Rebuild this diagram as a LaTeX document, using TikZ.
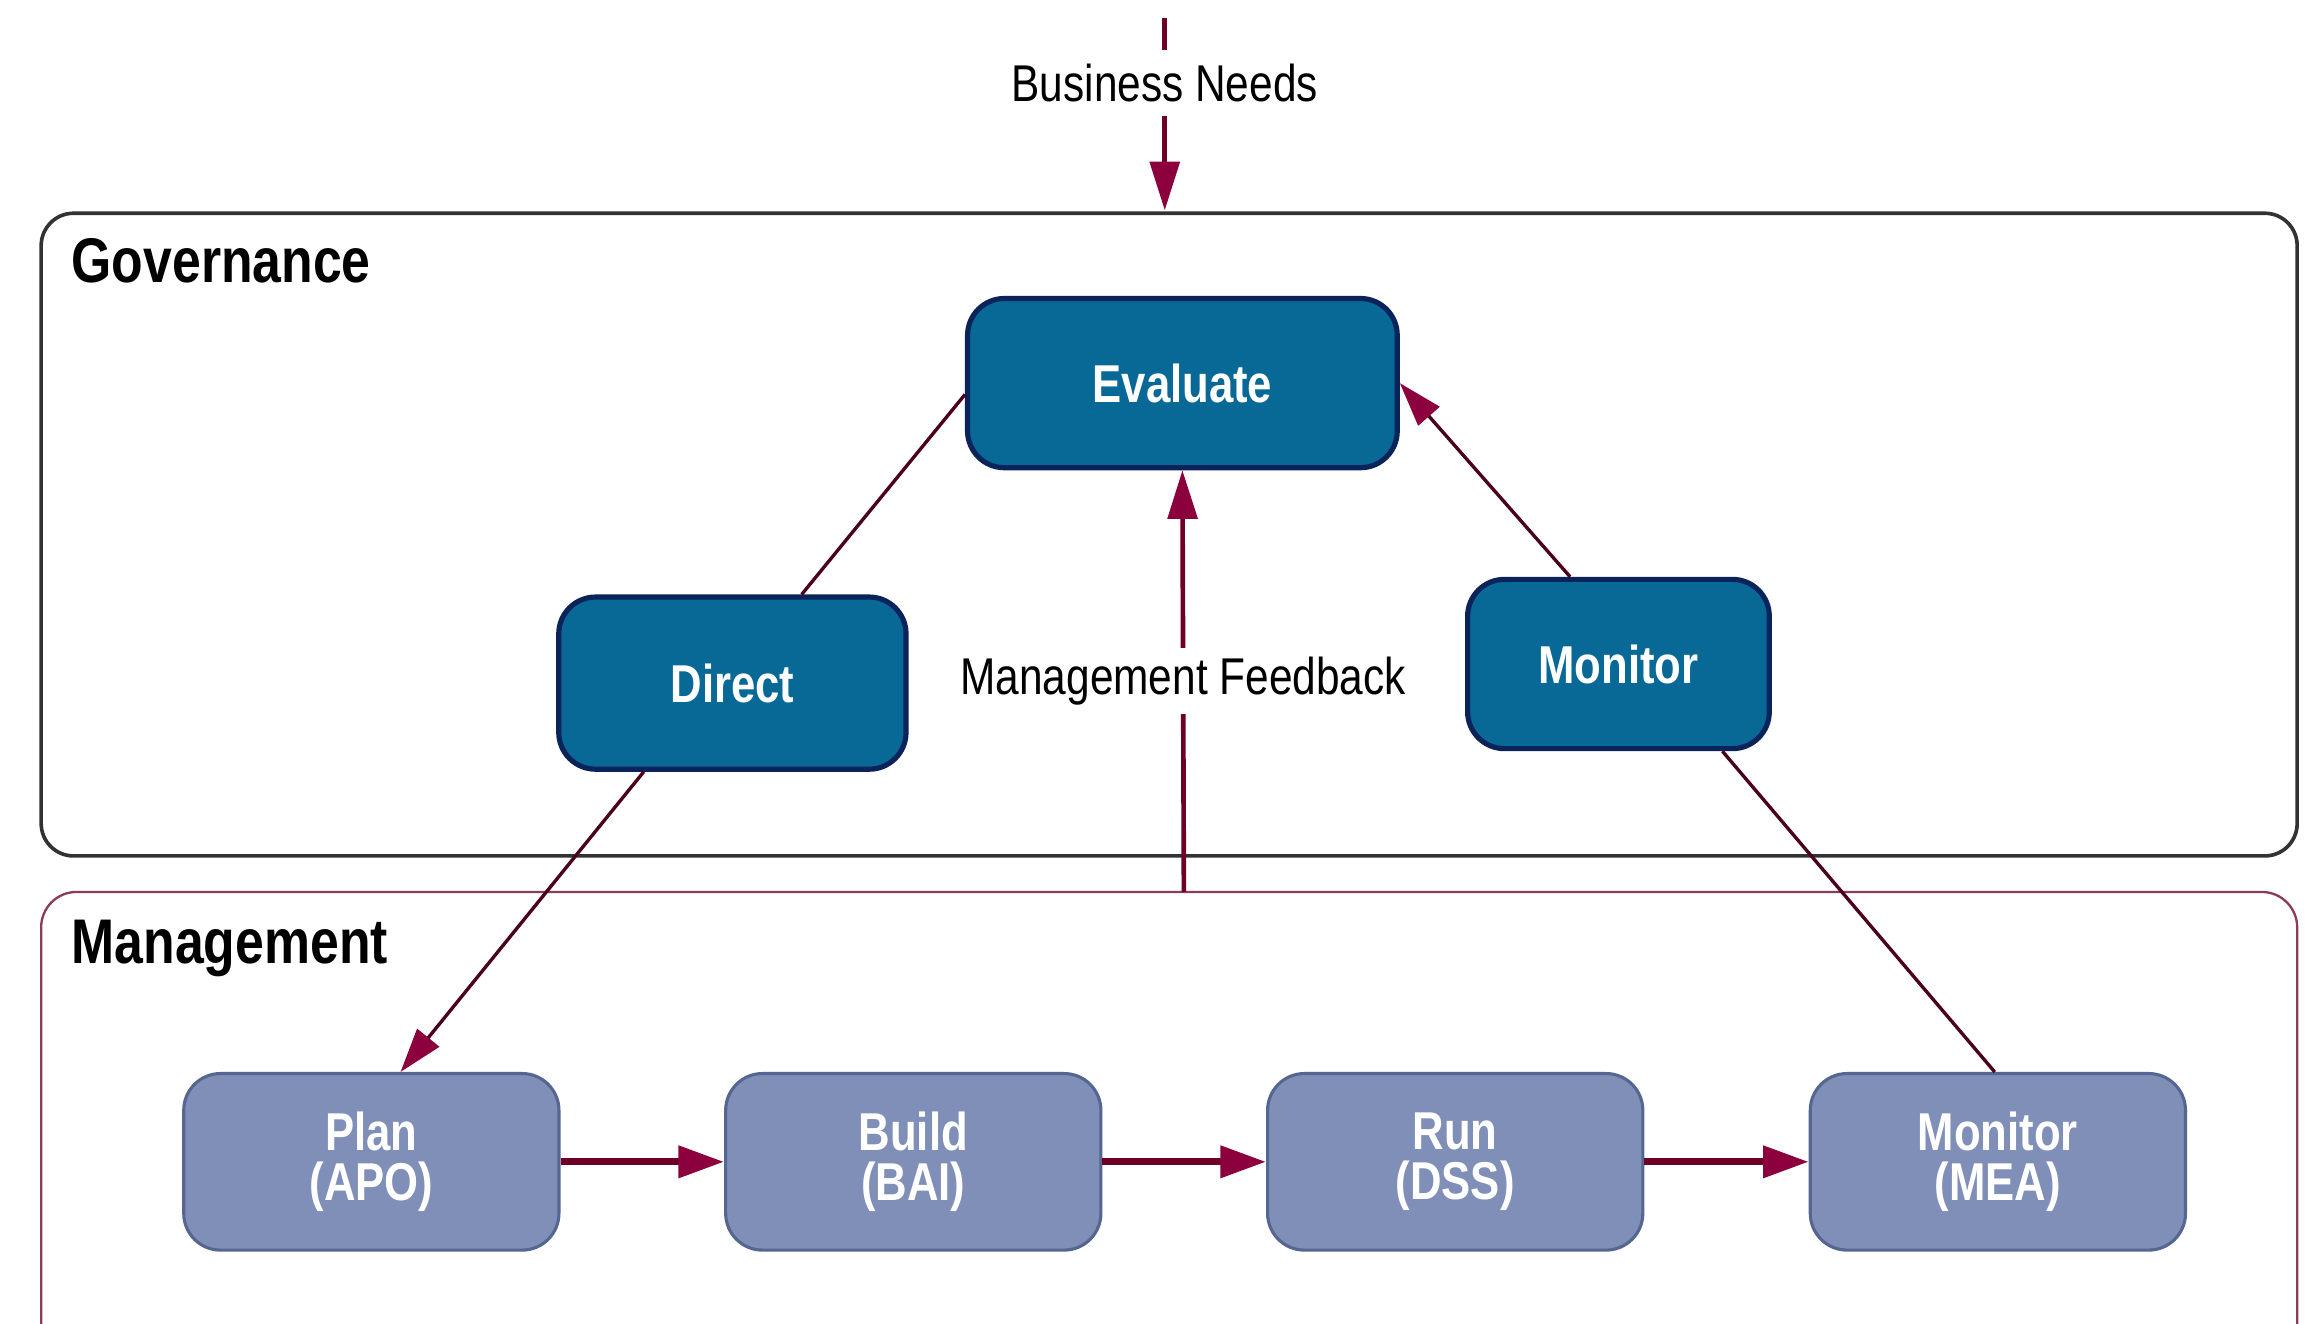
\documentclass[tikz,border=0pt]{standalone}
\usepackage{fontspec}
\setmainfont{Liberation Sans}[FakeStretch=0.82]
\usetikzlibrary{arrows.meta,calc}
\definecolor{govfill}{RGB}{8,104,150}
\definecolor{govdraw}{RGB}{10,35,90}
\definecolor{mgmtfill}{RGB}{128,143,184}
\definecolor{mgmtdraw}{RGB}{85,102,145}
\definecolor{flowred}{RGB}{110,0,38}
\definecolor{diagred}{RGB}{75,0,28}
\definecolor{tipred}{RGB}{140,0,62}
\definecolor{mgmtline}{RGB}{140,60,90}
\definecolor{govline}{RGB}{50,50,50}
\begin{document}
\begin{tikzpicture}[x=0.01cm,y=-0.01cm,
  govnode/.style={draw=govdraw,line width=1pt,fill=govfill,rounded corners=0.25cm,
    text=white,font=\fontsize{10.3}{12}\selectfont\bfseries,inner sep=0pt},
  mgmtnode/.style={draw=mgmtdraw,line width=0.6pt,fill=mgmtfill,rounded corners=0.25cm,
    text=white,font=\fontsize{10.3}{9.6}\selectfont\bfseries,align=center,inner sep=0pt,
    minimum width=2.55cm,minimum height=1.2cm},
  layerlabel/.style={anchor=base west,inner sep=0pt,font=\fontsize{12.2}{14}\selectfont\bfseries},
  plainlabel/.style={fill=white,inner sep=0pt,minimum height=0.45cm,font=\fontsize{10}{12}\selectfont},
  bigtip/.style={-{Triangle[length=3.3mm,width=2mm,color=tipred]}},
  diagtip/.style={-{Triangle[length=3mm,width=1.9mm,color=tipred]}},
  flowtip/.style={-{Triangle[length=3.1mm,width=2.1mm,color=tipred]}},
  inline/.style={draw=flowred,line width=0.9pt},
  diagline/.style={draw=diagred,line width=0.65pt},
  flowline/.style={draw=flowred,line width=1.4pt},
]
\clip (0,0) rectangle (1568,900);
\useasboundingbox (0,0) rectangle (1568,900);
\fill[white] (0,0) rectangle (1568,900);

% layer frames
\draw[govline,line width=0.7pt,rounded corners=0.22cm] (28,145) rectangle (1562,582);
\draw[mgmtline,line width=0.45pt,rounded corners=0.24cm] (28,606.5) rectangle (1562,935);
\node[layerlabel] (govlabel) at (48,192) {Governance};
\node[layerlabel] (mgmtlabel) at (48,655) {Management};

% governance nodes
\node[govnode,minimum width=2.92cm,minimum height=1.15cm] (eval) at (804,260.5) {Evaluate};
\node[govnode,minimum width=2.36cm,minimum height=1.17cm] (direct) at (498,464.5) {Direct};
\node[govnode,minimum width=2.05cm,minimum height=1.15cm] (mong) at (1100.5,451.5) {Monitor};

% management nodes
\node[mgmtnode] (plan) at (252.5,790) {Plan\\(APO)};
\node[mgmtnode] (build) at (621,790) {Build\\(BAI)};
\node[mgmtnode] (run) at (989.5,790) {Run\\(DSS)};
\node[mgmtnode] (mea) at (1358.5,790) {Monitor\\(MEA)};

% business needs
\coordinate (bntop) at (792,12);
\coordinate (bnend) at (792,143);
\draw[inline,bigtip] (bntop) -- node[plainlabel,pos=0.34] (bnlabel) {Business Needs} (bnend);

% management feedback
\coordinate (fbstart) at (805,606.5);
\draw[inline,bigtip] (fbstart) -- node[plainlabel] (fblabel) {Management Feedback} (eval.south);

% diagonals
\draw[diagline] (direct.52) -- (eval.183);
\draw[diagline,diagtip] (direct.225) -- (plan.72);
\draw[diagline,diagtip] (mong.119.5) -- (eval.east);
\draw[diagline] (mea.92) -- (mong.-40);

% flow arrows
\draw[flowline,flowtip] (plan.east) -- (build.west);
\draw[flowline,flowtip] (build.east) -- (run.west);
\draw[flowline,flowtip] (run.east) -- (mea.west);
\end{tikzpicture}
\end{document}
